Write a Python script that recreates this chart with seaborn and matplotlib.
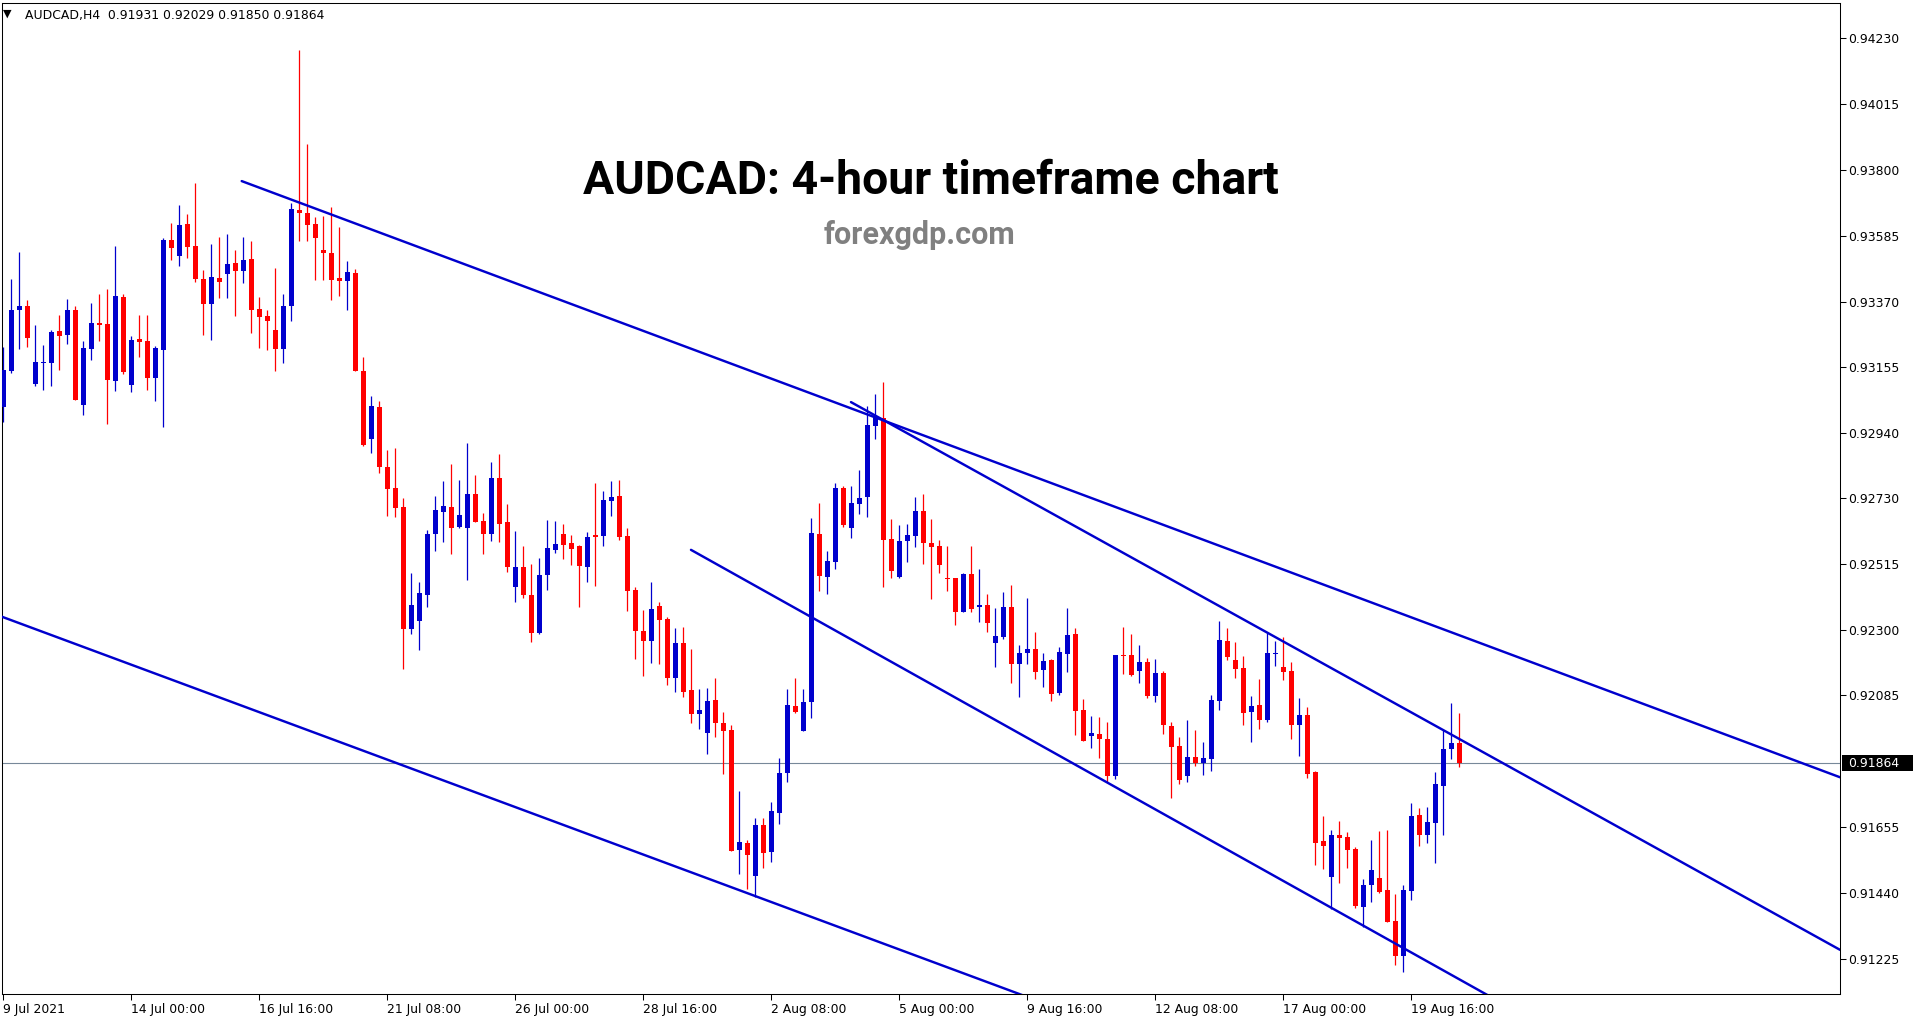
import numpy as np
import pandas as pd
import matplotlib
matplotlib.use('Agg')
import matplotlib.pyplot as plt
import matplotlib.transforms as mtransforms
from matplotlib.patches import Rectangle
import seaborn as sns

# --- DATA: AUDCAD H4 candles ---
opens = [0.93027, 0.93145, 0.93341, 0.93356, 0.93102, 0.93168, 0.93168, 0.93274, 0.93262, 0.93343,
         0.93031, 0.93216, 0.93300, 0.93297, 0.93112, 0.93385, 0.93099, 0.93248, 0.93241, 0.93119,
         0.93213, 0.93571, 0.93517, 0.93623, 0.93551, 0.93444, 0.93363, 0.93447, 0.93461, 0.93496,
         0.93471, 0.93509, 0.93346, 0.93322, 0.93277, 0.93216, 0.93355, 0.93669, 0.93660, 0.93622,
         0.93538, 0.93528, 0.93446, 0.93436, 0.93464, 0.93143, 0.92923, 0.93027, 0.92830, 0.92762,
         0.92701, 0.92303, 0.92329, 0.92414, 0.92611, 0.92685, 0.92701, 0.92635, 0.92632, 0.92743,
         0.92653, 0.92613, 0.92794, 0.92651, 0.92440, 0.92505, 0.92414, 0.92290, 0.92478, 0.92560,
         0.92612, 0.92582, 0.92573, 0.92505, 0.92608, 0.92606, 0.92720, 0.92736, 0.92605, 0.92429,
         0.92295, 0.92264, 0.92377, 0.92334, 0.92143, 0.92257, 0.92103, 0.92026, 0.91964, 0.92070,
         0.91995, 0.91972, 0.91582, 0.91604, 0.91497, 0.91662, 0.91574, 0.91702, 0.91833, 0.92050,
         0.91970, 0.92062, 0.92612, 0.92472, 0.92521, 0.92762, 0.92630, 0.92711, 0.92731, 0.92965,
         0.92990, 0.92596, 0.92471, 0.92588, 0.92606, 0.92687, 0.92583, 0.92572, 0.92469, 0.92469,
         0.92358, 0.92482, 0.92373, 0.92380, 0.92257, 0.92277, 0.92374, 0.92189, 0.92225, 0.92237,
         0.92169, 0.92201, 0.92094, 0.92221, 0.92286, 0.92037, 0.91954, 0.91959, 0.91944, 0.91823,
         0.92218, 0.92217, 0.92166, 0.92194, 0.92084, 0.92158, 0.91985, 0.91920, 0.91823, 0.91884,
         0.91863, 0.91879, 0.92068, 0.92263, 0.92201, 0.92175, 0.92032, 0.92054, 0.92006, 0.92219,
         0.92178, 0.92165, 0.91987, 0.92021, 0.91835, 0.91610, 0.91494, 0.91630, 0.91623, 0.91585,
         0.91396, 0.91465, 0.91490, 0.91450, 0.91349, 0.91236, 0.91448, 0.91695, 0.91631, 0.91670,
         0.91791, 0.91911, 0.91931]
highs = [0.93223, 0.93444, 0.93532, 0.93375, 0.93294, 0.93228, 0.93277, 0.93326, 0.93379, 0.93356,
         0.93241, 0.93365, 0.93395, 0.93411, 0.93551, 0.93395, 0.93258, 0.93326, 0.93326, 0.93225,
         0.93578, 0.93626, 0.93685, 0.93656, 0.93757, 0.93474, 0.93558, 0.93581, 0.93590, 0.93538,
         0.93581, 0.93568, 0.93386, 0.93343, 0.93480, 0.93395, 0.93690, 0.94191, 0.93885, 0.93646,
         0.93649, 0.93679, 0.93614, 0.93503, 0.93477, 0.93190, 0.93062, 0.93044, 0.92887, 0.92893,
         0.92730, 0.92485, 0.92456, 0.92625, 0.92735, 0.92785, 0.92840, 0.92788, 0.92909, 0.92804,
         0.92680, 0.92846, 0.92872, 0.92710, 0.92622, 0.92573, 0.92514, 0.92534, 0.92657, 0.92654,
         0.92644, 0.92608, 0.92576, 0.92618, 0.92778, 0.92752, 0.92785, 0.92788, 0.92631, 0.92440,
         0.92364, 0.92455, 0.92390, 0.92341, 0.92305, 0.92308, 0.92237, 0.92106, 0.92109, 0.92142,
         0.92031, 0.91989, 0.91774, 0.91614, 0.91685, 0.91686, 0.91737, 0.91882, 0.92106, 0.92143,
         0.92106, 0.92664, 0.92713, 0.92556, 0.92779, 0.92769, 0.92769, 0.92822, 0.93028, 0.93069,
         0.93107, 0.92661, 0.92641, 0.92645, 0.92732, 0.92743, 0.92661, 0.92592, 0.92572, 0.92469,
         0.92485, 0.92572, 0.92498, 0.92416, 0.92370, 0.92423, 0.92445, 0.92250, 0.92403, 0.92292,
         0.92225, 0.92204, 0.92243, 0.92370, 0.92305, 0.92073, 0.92018, 0.92015, 0.91998, 0.92217,
         0.92308, 0.92286, 0.92250, 0.92207, 0.92204, 0.92165, 0.91998, 0.91950, 0.92005, 0.91972,
         0.91933, 0.92087, 0.92328, 0.92305, 0.92259, 0.92214, 0.92083, 0.92139, 0.92290, 0.92264,
         0.92276, 0.92194, 0.92077, 0.92047, 0.91839, 0.91692, 0.91646, 0.91675, 0.91640, 0.91589,
         0.91487, 0.91613, 0.91643, 0.91646, 0.91438, 0.91467, 0.91734, 0.91718, 0.91721, 0.91835,
         0.91972, 0.92060, 0.92029]
lows = [0.92978, 0.93136, 0.93214, 0.93223, 0.93096, 0.93083, 0.93096, 0.93148, 0.93233, 0.93050,
        0.93001, 0.93180, 0.93242, 0.92969, 0.93079, 0.93135, 0.93076, 0.93190, 0.93083, 0.93047,
        0.92962, 0.93507, 0.93487, 0.93513, 0.93435, 0.93262, 0.93246, 0.93380, 0.93383, 0.93324,
        0.93432, 0.93269, 0.93220, 0.93213, 0.93142, 0.93171, 0.93308, 0.93566, 0.93569, 0.93439,
        0.93439, 0.93376, 0.93389, 0.93344, 0.93142, 0.92899, 0.92877, 0.92810, 0.92671, 0.92666,
        0.92170, 0.92287, 0.92232, 0.92373, 0.92556, 0.92586, 0.92548, 0.92631, 0.92463, 0.92652,
        0.92548, 0.92590, 0.92584, 0.92489, 0.92391, 0.92404, 0.92260, 0.92286, 0.92430, 0.92551,
        0.92530, 0.92512, 0.92375, 0.92456, 0.92443, 0.92574, 0.92672, 0.92593, 0.92362, 0.92205,
        0.92150, 0.92192, 0.92186, 0.92120, 0.92097, 0.92081, 0.91996, 0.91977, 0.91895, 0.91951,
        0.91830, 0.91579, 0.91504, 0.91452, 0.91429, 0.91523, 0.91542, 0.91667, 0.91803, 0.92028,
        0.91970, 0.92010, 0.92427, 0.92416, 0.92496, 0.92635, 0.92600, 0.92678, 0.92668, 0.92923,
        0.92440, 0.92467, 0.92469, 0.92521, 0.92568, 0.92515, 0.92401, 0.92483, 0.92427, 0.92316,
        0.92357, 0.92356, 0.92323, 0.92293, 0.92179, 0.92270, 0.92124, 0.92081, 0.92186, 0.92140,
        0.92114, 0.92068, 0.92088, 0.92163, 0.91957, 0.91938, 0.91915, 0.91882, 0.91804, 0.91814,
        0.92156, 0.92150, 0.92124, 0.92078, 0.92065, 0.91960, 0.91752, 0.91797, 0.91801, 0.91856,
        0.91827, 0.91840, 0.92039, 0.92199, 0.92143, 0.91990, 0.91934, 0.91977, 0.91999, 0.92182,
        0.92135, 0.91944, 0.91889, 0.91817, 0.91533, 0.91520, 0.91387, 0.91474, 0.91523, 0.91393,
        0.91331, 0.91412, 0.91442, 0.91347, 0.91207, 0.91184, 0.91419, 0.91595, 0.91602, 0.91540,
        0.91631, 0.91879, 0.91850]
closes = [0.93147, 0.93343, 0.93356, 0.93252, 0.93173, 0.93173, 0.93271, 0.93258, 0.93343, 0.93050,
          0.93218, 0.93300, 0.93294, 0.93115, 0.93388, 0.93141, 0.93245, 0.93239, 0.93119, 0.93218,
          0.93571, 0.93546, 0.93620, 0.93549, 0.93445, 0.93363, 0.93450, 0.93435, 0.93493, 0.93471,
          0.93506, 0.93344, 0.93321, 0.93308, 0.93216, 0.93356, 0.93672, 0.93658, 0.93621, 0.93576,
          0.93529, 0.93439, 0.93436, 0.93467, 0.93142, 0.92902, 0.93030, 0.92829, 0.92760, 0.92698,
          0.92303, 0.92380, 0.92419, 0.92612, 0.92690, 0.92704, 0.92632, 0.92674, 0.92743, 0.92652,
          0.92613, 0.92794, 0.92645, 0.92505, 0.92505, 0.92414, 0.92290, 0.92478, 0.92566, 0.92579,
          0.92576, 0.92564, 0.92508, 0.92602, 0.92602, 0.92723, 0.92732, 0.92602, 0.92427, 0.92296,
          0.92264, 0.92367, 0.92332, 0.92143, 0.92257, 0.92097, 0.92026, 0.92039, 0.92067, 0.91996,
          0.91970, 0.91579, 0.91607, 0.91563, 0.91662, 0.91572, 0.91708, 0.91833, 0.92054, 0.92031,
          0.92063, 0.92615, 0.92476, 0.92523, 0.92762, 0.92642, 0.92713, 0.92730, 0.92967, 0.92993,
          0.92593, 0.92492, 0.92589, 0.92609, 0.92687, 0.92581, 0.92570, 0.92512, 0.92464, 0.92358,
          0.92482, 0.92367, 0.92380, 0.92320, 0.92279, 0.92374, 0.92189, 0.92224, 0.92237, 0.92163,
          0.92198, 0.92091, 0.92227, 0.92282, 0.92035, 0.91938, 0.91963, 0.91944, 0.91823, 0.92217,
          0.92215, 0.92153, 0.92194, 0.92084, 0.92158, 0.91990, 0.91918, 0.91810, 0.91884, 0.91863,
          0.91881, 0.92070, 0.92266, 0.92212, 0.92172, 0.92029, 0.92051, 0.92006, 0.92224, 0.92224,
          0.92163, 0.91987, 0.92021, 0.91830, 0.91605, 0.91595, 0.91630, 0.91621, 0.91582, 0.91399,
          0.91467, 0.91516, 0.91444, 0.91347, 0.91234, 0.91450, 0.91692, 0.91631, 0.91672, 0.91796,
          0.91910, 0.91930, 0.91864]

# x-axis: candle index of each date tick and its label
tick_idx = [0, 16, 32, 48, 64, 80, 96, 112, 128, 144, 160, 176]
tick_labels = ['9 Jul 2021', '14 Jul 00:00', '16 Jul 16:00', '21 Jul 08:00', '26 Jul 00:00',
               '28 Jul 16:00', '2 Aug 08:00', '5 Aug 00:00', '9 Aug 16:00', '12 Aug 08:00',
               '17 Aug 00:00', '19 Aug 16:00']

# right price scale
price_ticks = [0.94230, 0.94015, 0.93800, 0.93585, 0.93370, 0.93155, 0.92940, 0.92730,
               0.92515, 0.92300, 0.92085, 0.91655, 0.91440, 0.91225]
bid = 0.91864

# drawn trend lines: (start index, end index), (start price, end price)
trend_x = [(29.8, 229.6), (105.96, 229.6), (85.96, 187.0), (-0.4, 130.0)]
trend_y = [(0.93763, 0.91818), (0.93042, 0.91255), (0.92560, 0.91086), (0.92344, 0.91082)]

BULL = '#0000CD'
BEAR = '#FF0000'
LINE = '#0000CD'

sns.set_style('white')
plt.rcParams['font.family'] = ['DejaVu Sans']
plt.rcParams['axes.linewidth'] = 0.75

W, H = 1913, 1023
fig = plt.figure(figsize=(W / 100, H / 100), dpi=100)
ax = fig.add_axes([2 / W, 1 - 994 / H, 1838 / W, 991 / H])

x = np.arange(len(opens))
o = np.array(opens)
c = np.array(closes)
colors = [BULL if cc >= oo else BEAR for oo, cc in zip(o, c)]

ax.axhline(bid, color='#778899', linewidth=0.8, zorder=1)

# wicks, then bodies
ax.vlines(x, lows, highs, colors=colors, linewidth=0.9, zorder=2)
body_low = np.minimum(o, c)
body_h = np.maximum(np.abs(c - o), 0.000035)
ax.bar(x, body_h, bottom=body_low, width=0.62, color=colors, linewidth=0, zorder=3)

# trend lines with seaborn
lines_df = pd.DataFrame({
    'idx': [v for pair in trend_x for v in pair],
    'price': [v for pair in trend_y for v in pair],
    'line': [k for k in range(len(trend_x)) for _ in range(2)],
})
sns.lineplot(data=lines_df, x='idx', y='price', units='line', estimator=None, sort=False,
             color=LINE, linewidth=1.75, ax=ax, zorder=4, legend=False)

ax.set_xlim(-0.1625, 229.59)
ax.set_ylim(0.91111, 0.94344)
ax.set_xlabel('')
ax.set_ylabel('')

ax.yaxis.tick_right()
ax.set_yticks(price_ticks)
ax.set_yticklabels([f'{p:.5f}' for p in price_ticks])
ax.set_xticks(tick_idx)
ax.set_xticklabels(tick_labels)
for lab in ax.get_xticklabels():
    lab.set_horizontalalignment('left')
ax.tick_params(axis='y', direction='out', length=4, width=0.75, pad=2, labelsize=8.9,
               colors='black', right=True, left=False)
ax.tick_params(axis='x', direction='out', length=4, width=0.75, pad=2.5, labelsize=8.9,
               colors='black', bottom=True)
for s in ax.spines.values():
    s.set_color('black')
    s.set_visible(True)

# current price box on the scale
trans = mtransforms.blended_transform_factory(fig.transFigure, ax.transData)
ax.add_patch(Rectangle((1842 / W, bid - 0.00026), 71 / W, 0.00052, transform=trans,
                       facecolor='black', edgecolor='none', clip_on=False, zorder=10))
ax.text(1848 / W, bid, f'{bid:.5f}', transform=trans, color='white', fontsize=8.9,
        va='center', ha='left', clip_on=False, zorder=11)

# header and titles
fig.text(3 / W, 1 - 14 / H, '\u25BC', fontsize=8, va='center', ha='left', color='black')
fig.text(25 / W, 1 - 15 / H, 'AUDCAD,H4  0.91931 0.92029 0.91850 0.91864', fontsize=8.9,
         va='center', ha='left', color='black')
fig.text(931 / W, 1 - 194 / H, 'AUDCAD: 4-hour timeframe chart', family='Roboto',
         fontweight='bold', fontsize=33.4, ha='center', va='baseline', color='black')
fig.text(920 / W, 1 - 244 / H, 'forexgdp.com', family='Roboto', fontweight='bold',
         fontsize=22, ha='center', va='baseline', color='#808080')

fig.savefig('out.png', dpi=100)
plt.close(fig)
